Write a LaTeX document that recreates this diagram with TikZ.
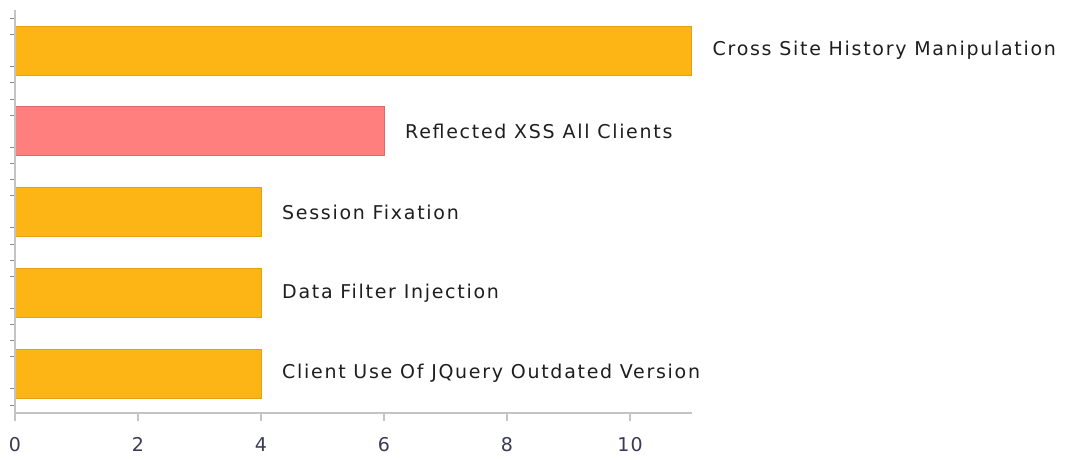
\documentclass[tikz,border=0pt]{standalone}
\usepackage{fontspec}
\setmainfont{DejaVu Sans}
\newfontfamily\labfont[LetterSpace=9]{DejaVu Sans}
\newfontfamily\numfont[LetterSpace=6]{DejaVu Sans}
\definecolor{barorange}{HTML}{FDB515}
\definecolor{barorangeedge}{HTML}{E3A012}
\definecolor{barred}{HTML}{FF7F7F}
\definecolor{barrededge}{HTML}{D86A6A}
\definecolor{axisgray}{HTML}{C4C4C4}
\definecolor{tickgray}{HTML}{8A8A8A}
\definecolor{labtext}{HTML}{1E1E1E}
\definecolor{numtext}{HTML}{3A3A55}
\begin{document}
\begin{tikzpicture}[x=1pt,y=-1pt,
  bar/.style={draw=barorangeedge,fill=barorange,line width=0.8pt,minimum height=49pt,inner sep=0pt,anchor=west,outer sep=0pt},
  redbar/.style={bar,draw=barrededge,fill=barred},
  lab/.style={font=\labfont\fontsize{19}{22}\selectfont,text=labtext,anchor=west,inner sep=0pt},
  num/.style={font=\numfont\fontsize{19}{22}\selectfont,text=numtext,anchor=north,inner sep=0pt},
  axisline/.style={draw=axisgray,line width=1.6pt},
  ytick/.style={draw=tickgray,line width=0.8pt},
  xtick/.style={draw=axisgray,line width=1.2pt}]
\useasboundingbox (0,0) rectangle (1069,460);
% bars
\node[bar,minimum width=676.5pt] (b1) at (15,50.5) {};
\node[redbar,minimum width=369pt] (b2) at (15,131) {};
\node[bar,minimum width=246pt] (b3) at (15,212) {};
\node[bar,minimum width=246pt] (b4) at (15,293) {};
\node[bar,minimum width=246pt] (b5) at (15,373.5) {};
% labels
\node[lab] (l1) at ([xshift=21pt]b1.east) {Cross Site History Manipulation};
\node[lab] (l2) at ([xshift=21pt]b2.east) {Reflected XSS All Clients};
\node[lab] (l3) at ([xshift=21pt]b3.east) {Session Fixation};
\node[lab] (l4) at ([xshift=21pt]b4.east) {Data Filter Injection};
\node[lab] (l5) at ([xshift=21pt]b5.east) {Client Use Of JQuery Outdated Version};
% y minor ticks
\foreach \k in {0,...,24}{
  \pgfmathtruncatemacro{\m}{mod(\k+3,5)}
  \ifnum\m=0\else
    \draw[ytick] (10,{18.5+16.1*\k}) -- (15,{18.5+16.1*\k});
  \fi
}
% axes
\draw[axisline] (15,10) -- (15,413) -- (692,413);
% x ticks and numbers
\foreach \v in {0,2,4,6,8,10}{
  \draw[xtick] ({15+61.5*\v},413) -- ({15+61.5*\v},421);
  \node[num] (n\v) at ({15+61.5*\v},437.5) {\v};
}
\end{tikzpicture}
\end{document}
